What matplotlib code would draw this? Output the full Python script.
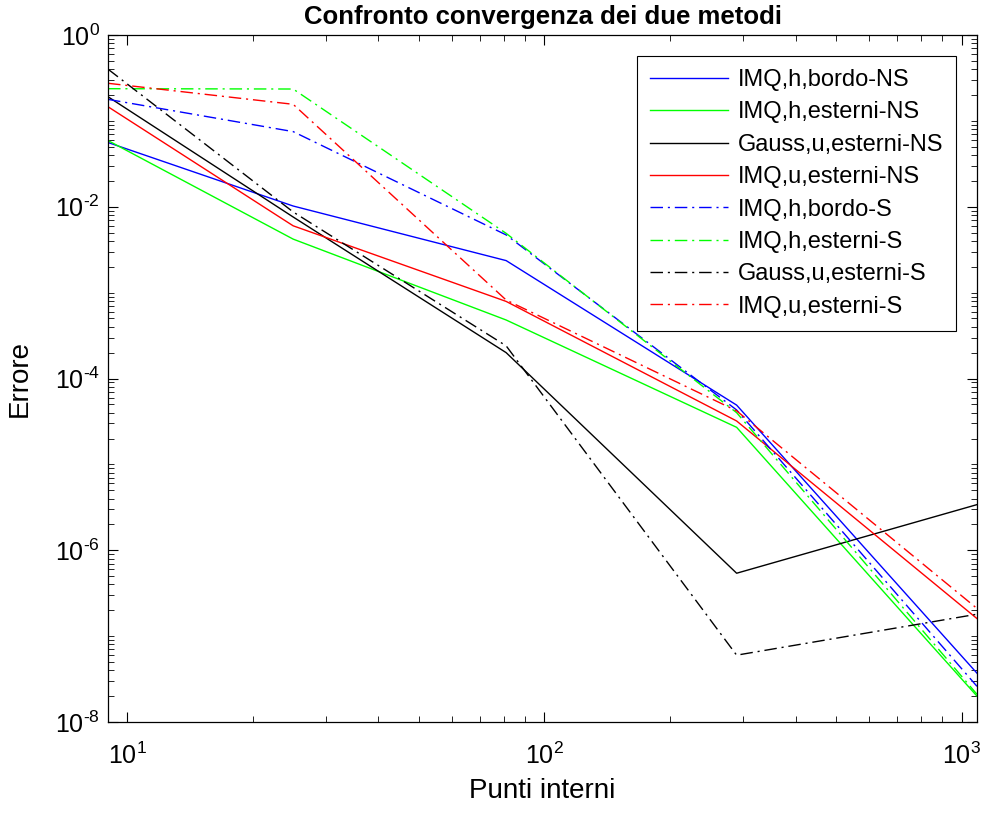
import numpy as np
import matplotlib
matplotlib.use('Agg')
import matplotlib.pyplot as plt
from matplotlib.ticker import LogLocator, FixedLocator, NullFormatter

plt.rcParams['font.family'] = ['Liberation Sans', 'DejaVu Sans']
plt.rcParams['mathtext.fontset'] = 'custom'
plt.rcParams['mathtext.rm'] = 'Liberation Sans'
plt.rcParams['mathtext.it'] = 'Liberation Sans'

# --- DATI ---
punti = [9, 25, 81, 289, 1089]

imq_h_bordo_ns = [5.6e-2, 1.02e-2, 2.36e-3, 4.9e-5, 3.7e-8]
imq_h_esterni_ns = [5.9e-2, 4.2e-3, 4.8e-4, 2.7e-5, 2.0e-8]
gauss_u_esterni_ns = [1.91e-1, 7.6e-3, 2.0e-4, 5.4e-7, 3.4e-6]
imq_u_esterni_ns = [1.46e-1, 6.0e-3, 7.9e-4, 3.2e-5, 1.6e-7]
imq_h_bordo_s = [1.78e-1, 7.5e-2, 4.7e-3, 4.3e-5, 2.6e-8]
imq_h_esterni_s = [2.37e-1, 2.35e-1, 4.9e-3, 4.0e-5, 2.1e-8]
gauss_u_esterni_s = [4.0e-1, 8.7e-3, 2.4e-4, 6.0e-8, 1.8e-7]
imq_u_esterni_s = [2.74e-1, 1.56e-1, 8.2e-4, 4.2e-5, 2.1e-7]

etichette = ['IMQ,h,bordo-NS', 'IMQ,h,esterni-NS', 'Gauss,u,esterni-NS', 'IMQ,u,esterni-NS',
             'IMQ,h,bordo-S', 'IMQ,h,esterni-S', 'Gauss,u,esterni-S', 'IMQ,u,esterni-S']
colori = ['#0000ff', '#00ff00', '#000000', '#ff0000'] * 2

serie = [imq_h_bordo_ns, imq_h_esterni_ns, gauss_u_esterni_ns, imq_u_esterni_ns,
         imq_h_bordo_s, imq_h_esterni_s, gauss_u_esterni_s, imq_u_esterni_s]

fig = plt.figure(figsize=(9.83, 8.16), dpi=100)
ax = fig.add_axes([0.1099, 0.1152, 0.8840, 0.8419])

for i, (y, lab, c) in enumerate(zip(serie, etichette, colori)):
    if i < 4:
        ax.plot(punti, y, color=c, lw=1.0, label=lab)
    else:
        ax.plot(punti, y, color=c, lw=1.0, label=lab, dashes=(9, 3.5, 1.5, 3.5))

ax.set_xscale('log')
ax.set_yscale('log')
ax.set_xlim(9, 1089)
ax.set_ylim(1e-8, 1)

ax.yaxis.set_major_locator(FixedLocator([1e-8, 1e-6, 1e-4, 1e-2, 1e0]))
ax.yaxis.set_minor_locator(LogLocator(base=10, subs=np.arange(1, 10), numticks=50))
ax.yaxis.set_minor_formatter(NullFormatter())
ax.set_yticklabels([r'$\mathregular{10^{\text{-}%d}}$' % -e if e < 0 else r'$\mathregular{10^{%d}}$' % e
                    for e in [-8, -6, -4, -2, 0]])

ax.xaxis.set_major_locator(FixedLocator([10, 100, 1000]))
ax.xaxis.set_minor_locator(LogLocator(base=10, subs=np.arange(2, 10), numticks=50))
ax.xaxis.set_minor_formatter(NullFormatter())
ax.set_xticklabels([r'$\mathregular{10^{%d}}$' % e for e in [1, 2, 3]])

ax.tick_params(which='both', direction='in', top=True, right=True, labelsize=18)
ax.tick_params(which='major', length=7, width=0.8)
ax.tick_params(axis='x', which='major', pad=15)
ax.tick_params(axis='y', which='major', pad=6)
ax.tick_params(which='minor', length=4, width=0.6)
for s in ax.spines.values():
    s.set_linewidth(0.9)

ax.set_xlabel('Punti interni', fontsize=20, labelpad=6)
ax.set_ylabel('Errore', fontsize=20, labelpad=16)
ax.set_title('Confronto convergenza dei due metodi', fontsize=18.5, fontweight='bold', pad=8)

leg = ax.legend(loc='upper right', bbox_to_anchor=(0.9758, 0.9694), fontsize=17,
                fancybox=False, edgecolor='black', framealpha=1, handlelength=3.3,
                borderpad=0.55, labelspacing=0.44, handletextpad=0.4, borderaxespad=0)
leg.get_frame().set_linewidth(0.8)

fig.savefig('out.png', dpi=100)
